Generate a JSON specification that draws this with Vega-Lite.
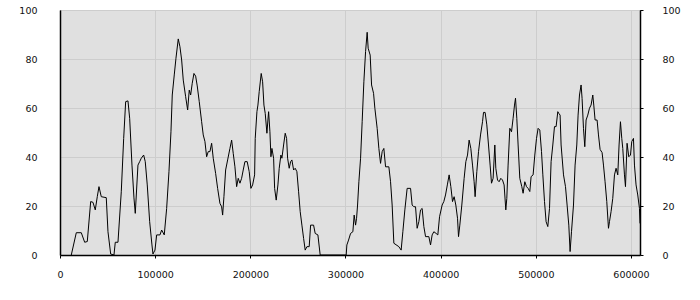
{
  "$schema": "https://vega.github.io/schema/vega-lite/v6.json",
  "width": 580,
  "height": 245,
  "autosize": "none",
  "padding": {"left": 60, "top": 10, "right": 60, "bottom": 45},
  "background": "white",
  "config": {
    "view": {"fill": "#e0e0e0", "stroke": "#000000", "strokeWidth": 1},
    "axis": {
      "labelFont": "DejaVu Sans",
      "labelFontSize": 9.5,
      "labelColor": "#111111",
      "domainColor": "#000000",
      "domainWidth": 1.5,
      "tickColor": "#000000",
      "gridColor": "#cdcdcd",
      "gridWidth": 1,
      "title": null
    }
  },
  "data": {
    "values": [
      {"x": 11870, "y": 0}, {"x": 17120, "y": 9.1}, {"x": 22370, "y": 9.1}, {"x": 25940, "y": 5.2}, {"x": 28670, "y": 5.5},
      {"x": 32240, "y": 21.8}, {"x": 34660, "y": 21.5}, {"x": 37070, "y": 18.4}, {"x": 39170, "y": 23.8}, {"x": 40960, "y": 27.9},
      {"x": 43380, "y": 23.8}, {"x": 48630, "y": 23.4}, {"x": 50420, "y": 9.5}, {"x": 53250, "y": 0.4}, {"x": 56720, "y": 0},
      {"x": 58090, "y": 5.2}, {"x": 60920, "y": 5.2}, {"x": 64390, "y": 25.8}, {"x": 66910, "y": 47.6}, {"x": 69010, "y": 62.6},
      {"x": 71430, "y": 62.9}, {"x": 73210, "y": 55.8}, {"x": 75630, "y": 36.7}, {"x": 77730, "y": 23.3}, {"x": 79100, "y": 17.0},
      {"x": 81930, "y": 36.7}, {"x": 83720, "y": 38.1}, {"x": 85400, "y": 39.5}, {"x": 87920, "y": 40.8}, {"x": 89600, "y": 38.1},
      {"x": 91700, "y": 28.6}, {"x": 94220, "y": 13.6}, {"x": 96640, "y": 4.1}, {"x": 97690, "y": 0.4}, {"x": 99790, "y": 2.0},
      {"x": 101580, "y": 8.2}, {"x": 105040, "y": 8.2}, {"x": 106830, "y": 10.2}, {"x": 109560, "y": 8.2}, {"x": 112080, "y": 19},
      {"x": 114500, "y": 34}, {"x": 116600, "y": 50.3}, {"x": 117970, "y": 65.3}, {"x": 120070, "y": 73.5}, {"x": 121860, "y": 80.3},
      {"x": 124270, "y": 88.2}, {"x": 126050, "y": 85}, {"x": 127840, "y": 79.6}, {"x": 129520, "y": 71.4}, {"x": 132040, "y": 64.6},
      {"x": 134140, "y": 59.2}, {"x": 135820, "y": 67.3}, {"x": 137290, "y": 65.3}, {"x": 138970, "y": 70.1}, {"x": 140760, "y": 74.1},
      {"x": 142540, "y": 73}, {"x": 144220, "y": 69}, {"x": 146320, "y": 62.6}, {"x": 148840, "y": 54.4}, {"x": 150520, "y": 49},
      {"x": 152310, "y": 46.3}, {"x": 154090, "y": 40.1}, {"x": 155770, "y": 42.2}, {"x": 157560, "y": 42.2}, {"x": 159350, "y": 45.6},
      {"x": 161030, "y": 39.5}, {"x": 163550, "y": 33.3}, {"x": 165650, "y": 27.2}, {"x": 168070, "y": 21.1}, {"x": 169850, "y": 19.7},
      {"x": 170900, "y": 16.3}, {"x": 172270, "y": 23.8}, {"x": 174060, "y": 34.7}, {"x": 176160, "y": 38.8}, {"x": 178570, "y": 43.5},
      {"x": 180360, "y": 46.9}, {"x": 182040, "y": 41.5}, {"x": 183820, "y": 36}, {"x": 185610, "y": 27.9}, {"x": 187290, "y": 31.3},
      {"x": 189080, "y": 29.3}, {"x": 190860, "y": 31.3}, {"x": 192540, "y": 34.7}, {"x": 194330, "y": 38.1}, {"x": 196740, "y": 38.1},
      {"x": 198840, "y": 34}, {"x": 200630, "y": 27.2}, {"x": 202420, "y": 28.6}, {"x": 204520, "y": 32.7}, {"x": 205150, "y": 47.6},
      {"x": 206940, "y": 58.5}, {"x": 207990, "y": 61.2}, {"x": 209350, "y": 66.7}, {"x": 211450, "y": 74.1}, {"x": 212930, "y": 70.7},
      {"x": 214300, "y": 61.2}, {"x": 215660, "y": 57.8}, {"x": 217440, "y": 49.7}, {"x": 218490, "y": 55.1}, {"x": 219230, "y": 58.5},
      {"x": 220590, "y": 50.3}, {"x": 221640, "y": 40.1}, {"x": 222690, "y": 43.5}, {"x": 224480, "y": 39.5}, {"x": 225530, "y": 27.2},
      {"x": 227210, "y": 22.4}, {"x": 228990, "y": 28.6}, {"x": 230360, "y": 35.4}, {"x": 232140, "y": 40.8}, {"x": 233190, "y": 39.5},
      {"x": 234980, "y": 44.9}, {"x": 236660, "y": 49.7}, {"x": 238130, "y": 47.6}, {"x": 239180, "y": 39.5}, {"x": 240860, "y": 35.4},
      {"x": 242330, "y": 38.1}, {"x": 243700, "y": 38.8}, {"x": 245480, "y": 34.7}, {"x": 247170, "y": 35.4}, {"x": 248950, "y": 34},
      {"x": 250740, "y": 25.8}, {"x": 252420, "y": 17.7}, {"x": 254210, "y": 12.2}, {"x": 255990, "y": 6.8}, {"x": 257670, "y": 2.0},
      {"x": 259460, "y": 3.4}, {"x": 261870, "y": 3.4}, {"x": 263340, "y": 12.2}, {"x": 266490, "y": 12.2}, {"x": 268170, "y": 8.8},
      {"x": 271010, "y": 8.2}, {"x": 273420, "y": 0}, {"x": 300730, "y": 0}, {"x": 301460, "y": 4.1}, {"x": 303250, "y": 6.1},
      {"x": 305350, "y": 8.8}, {"x": 307770, "y": 9.5}, {"x": 309130, "y": 16.3}, {"x": 310600, "y": 12.2}, {"x": 311660, "y": 15},
      {"x": 312710, "y": 20.4}, {"x": 314080, "y": 29.9}, {"x": 315860, "y": 39.5}, {"x": 317540, "y": 54.4}, {"x": 319330, "y": 70.7},
      {"x": 321110, "y": 83}, {"x": 322790, "y": 90.9}, {"x": 323840, "y": 84.4}, {"x": 325940, "y": 81.6}, {"x": 327410, "y": 69.4},
      {"x": 329510, "y": 66}, {"x": 330880, "y": 59.9}, {"x": 333290, "y": 51.7}, {"x": 335080, "y": 43.5}, {"x": 336860, "y": 37.4},
      {"x": 338550, "y": 42.2}, {"x": 340330, "y": 43.5}, {"x": 342120, "y": 36}, {"x": 345590, "y": 36}, {"x": 347370, "y": 29.9},
      {"x": 349050, "y": 20.4}, {"x": 350840, "y": 4.8}, {"x": 356090, "y": 3.4}, {"x": 358500, "y": 2.0}, {"x": 360290, "y": 9.5},
      {"x": 362390, "y": 18.4}, {"x": 364800, "y": 27.2}, {"x": 368380, "y": 27.2}, {"x": 370060, "y": 20.4}, {"x": 371850, "y": 19.7},
      {"x": 373630, "y": 19.7}, {"x": 375310, "y": 10.9}, {"x": 377100, "y": 13.6}, {"x": 378880, "y": 18.4}, {"x": 380560, "y": 19},
      {"x": 382350, "y": 11.6}, {"x": 384140, "y": 7.5}, {"x": 387610, "y": 7.5}, {"x": 389390, "y": 4.1}, {"x": 391070, "y": 8.2},
      {"x": 392860, "y": 9.5}, {"x": 395270, "y": 8.8}, {"x": 397050, "y": 8.2}, {"x": 398840, "y": 15.6}, {"x": 401570, "y": 20.4},
      {"x": 403350, "y": 21.8}, {"x": 405140, "y": 24.5}, {"x": 407030, "y": 28.6}, {"x": 408920, "y": 32.7}, {"x": 410710, "y": 27.9},
      {"x": 412490, "y": 21.8}, {"x": 414170, "y": 23.8}, {"x": 415960, "y": 20.4}, {"x": 417740, "y": 15}, {"x": 418790, "y": 7.5},
      {"x": 420160, "y": 12.2}, {"x": 422260, "y": 20.4}, {"x": 424680, "y": 31.3}, {"x": 426470, "y": 38.1}, {"x": 428250, "y": 40.8},
      {"x": 429930, "y": 46.9}, {"x": 431720, "y": 43.5}, {"x": 433500, "y": 36.7}, {"x": 435180, "y": 29.9}, {"x": 436230, "y": 23.8},
      {"x": 438020, "y": 34}, {"x": 439810, "y": 42.2}, {"x": 441910, "y": 49}, {"x": 444010, "y": 54.4}, {"x": 445060, "y": 58.2},
      {"x": 446740, "y": 58.2}, {"x": 448530, "y": 53.1}, {"x": 450310, "y": 44.9}, {"x": 451990, "y": 36.7}, {"x": 453460, "y": 29.3},
      {"x": 455140, "y": 31.3}, {"x": 456930, "y": 44.9}, {"x": 457980, "y": 35.4}, {"x": 459760, "y": 30.6}, {"x": 461440, "y": 29.9},
      {"x": 463230, "y": 31.3}, {"x": 465010, "y": 30.6}, {"x": 466700, "y": 28.6}, {"x": 468480, "y": 18.4}, {"x": 469530, "y": 23.1},
      {"x": 470900, "y": 36.7}, {"x": 472680, "y": 51.7}, {"x": 474470, "y": 50.3}, {"x": 476150, "y": 55.8}, {"x": 477620, "y": 61.2},
      {"x": 478670, "y": 64}, {"x": 480040, "y": 55.8}, {"x": 481410, "y": 44.9}, {"x": 483190, "y": 31.3}, {"x": 485290, "y": 27.9},
      {"x": 486660, "y": 25.2}, {"x": 488440, "y": 29.9}, {"x": 490230, "y": 27.9}, {"x": 491910, "y": 27.2}, {"x": 493700, "y": 25.9},
      {"x": 495060, "y": 32}, {"x": 497160, "y": 32.7}, {"x": 498950, "y": 40.8}, {"x": 500740, "y": 47.6}, {"x": 502420, "y": 51.7},
      {"x": 504210, "y": 51}, {"x": 505990, "y": 42.2}, {"x": 507360, "y": 33}, {"x": 509150, "y": 21.8}, {"x": 510830, "y": 13.6},
      {"x": 512620, "y": 11.6}, {"x": 514400, "y": 19}, {"x": 516080, "y": 38.1}, {"x": 517870, "y": 44.9}, {"x": 519650, "y": 52.4},
      {"x": 521330, "y": 52.4}, {"x": 523120, "y": 58.5}, {"x": 524170, "y": 57.8}, {"x": 525540, "y": 57.1}, {"x": 526590, "y": 44.9},
      {"x": 529110, "y": 32.7}, {"x": 531210, "y": 27.9}, {"x": 532890, "y": 20.4}, {"x": 534680, "y": 12.2}, {"x": 536040, "y": 1.4},
      {"x": 537510, "y": 9.5}, {"x": 539610, "y": 20.4}, {"x": 541290, "y": 36.7}, {"x": 543080, "y": 44.9}, {"x": 544440, "y": 57.1},
      {"x": 545910, "y": 65.3}, {"x": 547590, "y": 69.4}, {"x": 548640, "y": 63.9}, {"x": 550110, "y": 51.7}, {"x": 551480, "y": 44.2},
      {"x": 552840, "y": 55.1}, {"x": 554630, "y": 57.1}, {"x": 556410, "y": 59.9}, {"x": 558090, "y": 61.2}, {"x": 559880, "y": 65.3},
      {"x": 560930, "y": 61.2}, {"x": 562300, "y": 55.1}, {"x": 564400, "y": 55.1}, {"x": 565870, "y": 49}, {"x": 567550, "y": 43.1},
      {"x": 569650, "y": 41.8}, {"x": 571120, "y": 36.7}, {"x": 572800, "y": 29.9}, {"x": 574590, "y": 21.8}, {"x": 576370, "y": 10.9},
      {"x": 577420, "y": 13.6}, {"x": 579100, "y": 17.7}, {"x": 580880, "y": 23.1}, {"x": 582670, "y": 32.7}, {"x": 584350, "y": 35.4},
      {"x": 586140, "y": 32.7}, {"x": 587500, "y": 44.9}, {"x": 588970, "y": 54.4}, {"x": 590340, "y": 47.6}, {"x": 591390, "y": 43.5},
      {"x": 593170, "y": 32.7}, {"x": 594230, "y": 27.9}, {"x": 595910, "y": 45.6}, {"x": 597700, "y": 40.1}, {"x": 599480, "y": 40.8},
      {"x": 600850, "y": 46.3}, {"x": 602630, "y": 47.6}, {"x": 603680, "y": 36.7}, {"x": 605360, "y": 28.6}, {"x": 607140, "y": 24.5},
      {"x": 608930, "y": 19}, {"x": 609500, "y": 12.9}
    ]
  },
  "layer": [
    {
      "mark": {"type": "line", "color": "#000000", "strokeWidth": 1, "clip": true},
      "encoding": {
        "x": {
          "field": "x", "type": "quantitative",
          "scale": {"domain": [0, 609500], "nice": false, "zero": false},
          "axis": {"values": [0, 100000, 200000, 300000, 400000, 500000, 600000], "format": "d", "tickSize": 3, "labelPadding": 11, "grid": true, "labelFlush": false, "labelOverlap": false}
        },
        "y": {
          "field": "y", "type": "quantitative",
          "scale": {"domain": [0, 100], "nice": false},
          "axis": {"orient": "left", "values": [0, 20, 40, 60, 80, 100], "ticks": false, "labelPadding": 23, "grid": true, "labelFlush": false}
        }
      }
    },
    {
      "mark": {"type": "line", "color": "#000000", "strokeOpacity": 0},
      "encoding": {
        "x": {"field": "x", "type": "quantitative"},
        "y": {
          "field": "y", "type": "quantitative",
          "axis": {"orient": "right", "values": [0, 20, 40, 60, 80, 100], "tickSize": 3, "labelPadding": 19, "grid": false, "labelFlush": false}
        }
      }
    }
  ],
  "resolve": {"axis": {"y": "independent"}}
}
